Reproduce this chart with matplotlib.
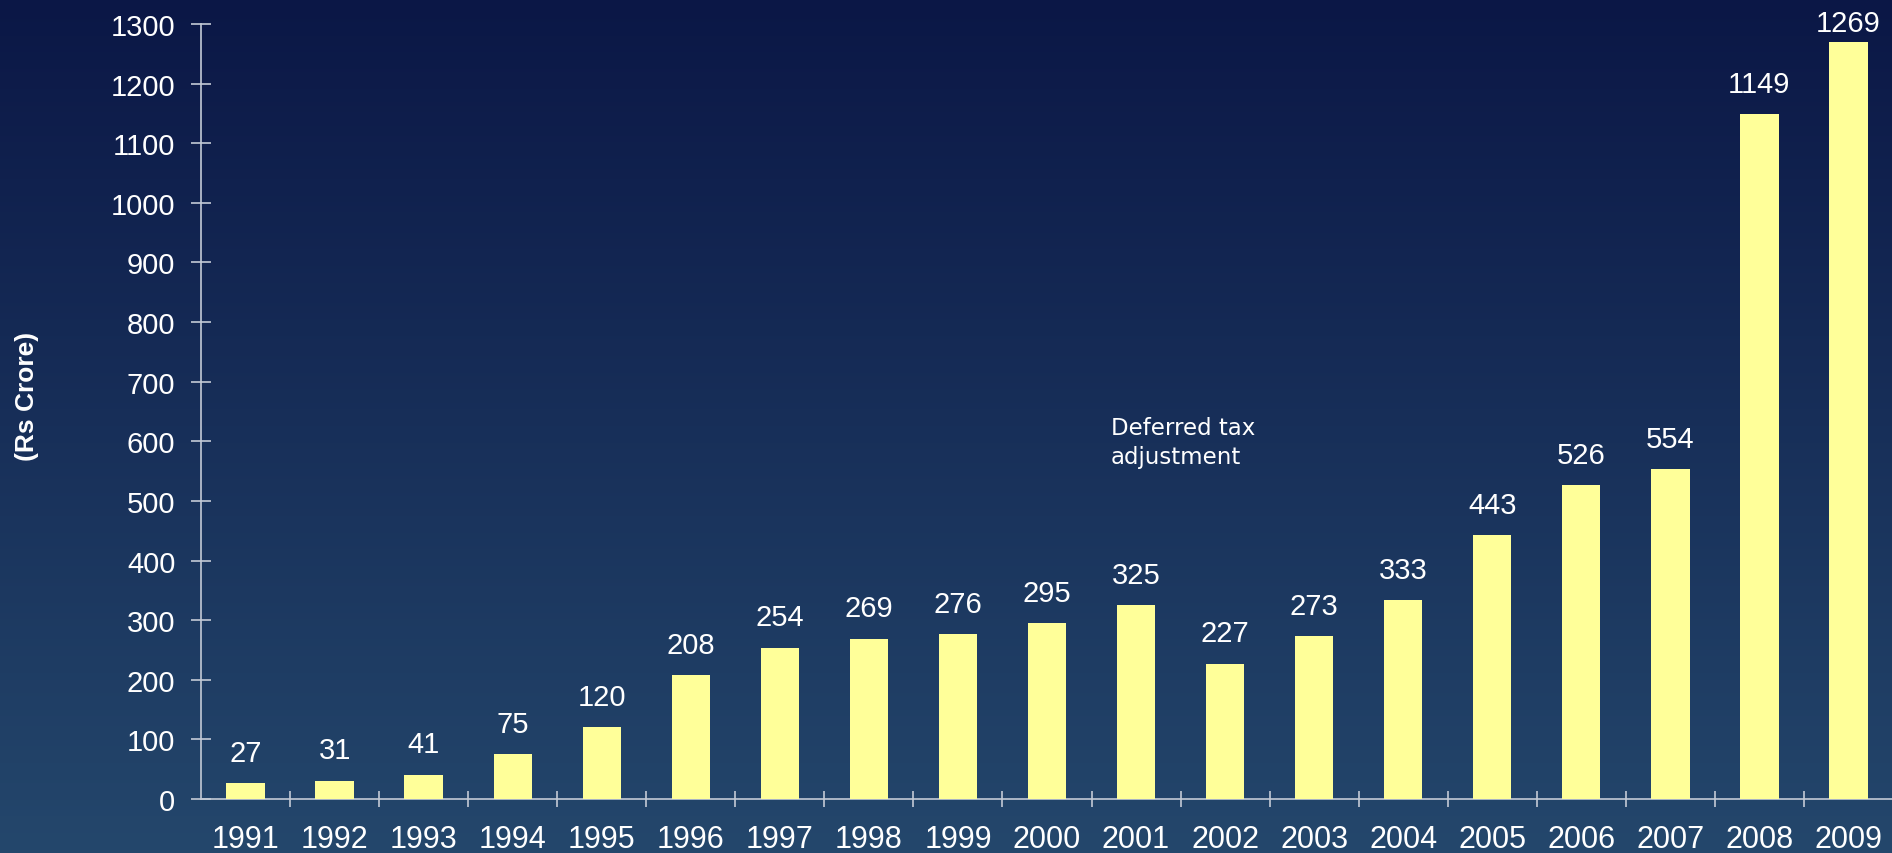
import numpy as np
import matplotlib
matplotlib.use("Agg")
import matplotlib.pyplot as plt
from matplotlib.colors import LinearSegmentedColormap

# Data
years = ["1991", "1992", "1993", "1994", "1995", "1996", "1997", "1998", "1999", "2000",
         "2001", "2002", "2003", "2004", "2005", "2006", "2007", "2008", "2009"]
profit = [27, 31, 41, 75, 120, 208, 254, 269, 276, 295,
          325, 227, 273, 333, 443, 526, 554, 1149, 1269]
y_ticks = list(range(0, 1301, 100))

W, H = 1892, 854
fig = plt.figure(figsize=(W / 100, H / 100), dpi=100)

# Background gradient (dark navy top -> steel blue bottom)
bg = fig.add_axes([0, 0, 1, 1], zorder=-10)
grad = LinearSegmentedColormap.from_list("bg", ["#0b1746", "#24476c"])
bg.imshow(np.linspace(0, 1, 256).reshape(-1, 1), aspect="auto", cmap=grad,
          extent=[0, 1, 0, 1], origin="upper")
bg.axis("off")

plt.rcParams["font.family"] = ["Liberation Sans", "DejaVu Sans"]
axis_col = "#c3cad6"

ax = fig.add_axes([201 / W, 54 / H, 1692 / W, 775 / H])
ax.patch.set_alpha(0)
x = np.arange(len(years))
bars = ax.bar(x, profit, width=0.43, color="#ffff99", zorder=3)

ax.set_xlim(-0.5, len(years) - 0.5)
ax.set_ylim(0, 1300)
ax.set_yticks(y_ticks)

# year labels at bar centres, tick marks between categories
ax.set_xticks(x)
ax.set_xticklabels(years)
ax.set_xticks(np.arange(0.5, len(years) - 0.5, 1), minor=True)
ax.tick_params(axis="x", which="major", length=0, pad=18, labelsize=22, labelcolor="white")
ax.tick_params(axis="x", which="minor", direction="inout", length=12, width=1.2, color=axis_col)
ax.tick_params(axis="y", direction="inout", length=15, width=1.2, color=axis_col,
               pad=11, labelsize=21, labelcolor="white")

for s in ["top", "right"]:
    ax.spines[s].set_visible(False)
for s in ["left", "bottom"]:
    ax.spines[s].set_color(axis_col)
    ax.spines[s].set_linewidth(1.2)

# value labels above bars
for xi, v in zip(x, profit):
    off = 16 if v < 1200 else 8
    ax.annotate(str(v), (xi, v), xytext=(0, off), textcoords="offset points",
                ha="center", va="baseline", fontsize=21, color="white")

fig.text(27 / W, 1 - 396 / H, "(Rs Crore)", rotation=90, ha="center", va="center",
         fontsize=19, fontweight="bold", color="white")

fig.text(1111 / W, 1 - 417 / H, "Deferred tax\nadjustment", ha="left", va="top",
         fontsize=16.5, color="white", family=["DejaVu Sans"], linespacing=1.35)

fig.savefig("out.png", dpi=100)
